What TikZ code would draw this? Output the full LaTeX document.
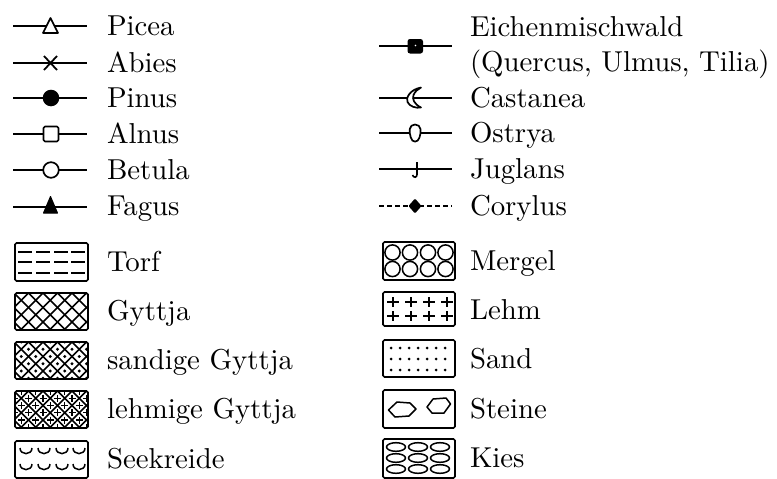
\documentclass[tikz,border=0pt]{standalone}
\usepackage{fontspec}
\usepackage{graphicx}
\newcommand\txt[1]{\scalebox{2.88}{\addfontfeatures{FakeBold=0.6}#1}}
\begin{document}
\begin{tikzpicture}[x=1pt,y=-1pt,
  conn/.style={line width=1.5pt},
  sym/.style={line width=1.7pt,fill=white,line join=round},
  solidsym/.style={line width=1pt,fill=black,line join=round},
  lbl/.style={anchor=base west,inner sep=0pt,outer sep=0pt},
  swatch/.style={draw,line width=1.6pt,rounded corners=1.5pt},
  hatch/.style={line width=1.5pt},
  fine/.style={line width=1.5pt}]
\useasboundingbox (0,0) rectangle (777,479);
% ---------- left symbol column ----------
\foreach \n/\y in {1/26,2/63,3/98,4/134,5/170,6/207}{
  \coordinate (la\n) at (13,\y);
  \coordinate (lb\n) at (87,\y);
  \draw[conn] (la\n) -- (lb\n);
}
% Picea
\draw[sym] (43,33) -- (58,33) -- (50.5,18) -- cycle;
% Abies
\draw[line width=1.8pt] (44,56) -- (57,70) (44,70) -- (57,56);
% Pinus
\fill (51,98) circle[radius=8.3];
% Alnus
\draw[sym,rounded corners=1.5pt] (43.5,126.5) rectangle (58.5,141.5);
% Betula
\draw[sym] (51,170) circle[radius=7.8];
% Fagus
\draw[solidsym] (43.5,213) -- (57.5,213) -- (50.5,196.5) -- cycle;
\node[lbl] (tPicea)  at (107,35)  {\txt{Picea}};
\node[lbl] (tAbies)  at (107,72)  {\txt{Abies}};
\node[lbl] (tPinus)  at (107,107) {\txt{Pinus}};
\node[lbl] (tAlnus)  at (107,143) {\txt{Alnus}};
\node[lbl] (tBetula) at (107,179) {\txt{Betula}};
\node[lbl] (tFagus)  at (107,215) {\txt{Fagus}};
% ---------- right symbol column ----------
\foreach \n/\y in {1/46,2/98,3/133,4/169}{
  \coordinate (ra\n) at (379,\y);
  \coordinate (rb\n) at (452,\y);
  \draw[conn] (ra\n) -- (rb\n);
}
\coordinate (ra5) at (379,206);
\coordinate (rb5) at (452,206);
\draw[conn,dash pattern=on 5pt off 3pt] (ra5) -- (rb5);
% Eichenmischwald
\fill[rounded corners=2.5pt] (407.5,39) rectangle (423,53.5);
\fill[white] (415.5,45.5) circle[radius=0.9];
% Castanea
\draw[sym] (421,87.5) .. controls (410,89.5) and (405.5,98) .. (407.5,102)
  .. controls (409.5,106.5) and (416,108.5) .. (421,107.5)
  .. controls (414,104) and (412,99) .. (413.5,95)
  .. controls (415,91.5) and (418,89) .. (421,87.5) -- cycle;
% Ostrya
\draw[sym] (415,124.5) .. controls (421.5,124.5) and (421.5,132) .. (419.5,137.5)
  .. controls (418,143) and (412,143) .. (410.8,137.5)
  .. controls (408.8,132) and (408.8,124.5) .. (415,124.5) -- cycle;
% Juglans
\draw[line width=1.6pt] (417,162) -- (417,174.5) .. controls (417,178) and (413.5,178) .. (412.5,175);
% Corylus
\fill[rounded corners=1pt] (408.5,206) -- (415,198.5) -- (421.5,206) -- (415,213.5) -- cycle;
\node[lbl] (tEichen)   at (470,36)  {\txt{Eichenmischwald}};
\node[lbl] (tQuercus)  at (470,71)  {\txt{(Quercus, Ulmus, Tilia)}};
\node[lbl] (tCastanea) at (470,107) {\txt{Castanea}};
\node[lbl] (tOstrya)   at (470,142) {\txt{Ostrya}};
\node[lbl] (tJuglans)  at (470,178) {\txt{Juglans}};
\node[lbl] (tCorylus)  at (470,215) {\txt{Corylus}};
% ---------- left swatches ----------
% Torf
\draw[swatch] (15,243) rectangle (88,281);
\foreach \yy in {252,262,273}{
  \foreach \xx in {18,36,54,71}{
    \draw[fine] (\xx,\yy) -- ++(14,0);
  }
}
% Gyttja family: crosshatch
\foreach \top/\kind in {293/0,342/1,391/2}{
  \begin{scope}
    \clip (15,\top) rectangle (88,\top+37);
    \foreach \k in {-4,...,9}{
      \draw[hatch] (14+\k*14.5,\top) -- ++(37,37);
      \draw[hatch] (14+\k*14.5,\top) -- ++(-37,37);
    }
    \ifnum\kind=1
      \foreach \a in {-1,...,6}{
        \foreach \b in {0,...,3}{
          \fill (21.25+\a*14.5,\top+\b*14.5) circle[radius=1.6];
          \fill (14+\a*14.5,\top+7.25+\b*14.5) circle[radius=1.6];
        }
      }
    \fi
    \ifnum\kind=2
      \foreach \a in {-1,...,6}{
        \foreach \b in {0,...,3}{
          \draw[line width=1.3pt] (17.75+\a*14.5,\top+\b*14.5) -- ++(7,0) (21.25+\a*14.5,\top-3.5+\b*14.5) -- ++(0,7);
          \draw[line width=1.3pt] (10.5+\a*14.5,\top+7.25+\b*14.5) -- ++(7,0) (14+\a*14.5,\top+3.75+\b*14.5) -- ++(0,7);
        }
      }
    \fi
  \end{scope}
  \draw[swatch] (15,\top) rectangle (88,\top+37);
}
% Seekreide
\draw[swatch] (15,441) rectangle (88,478);
\foreach \yy in {448,464}{
  \foreach \xx in {26,44,62,79}{
    \draw[fine] (\xx-6,\yy) .. controls (\xx-6,\yy+7.5) and (\xx+6,\yy+7.5) .. (\xx+6,\yy);
  }
}
\node[lbl] (tTorf)  at (107,271) {\txt{Torf}};
\node[lbl] (tGy)    at (107,320) {\txt{Gyttja}};
\node[lbl] (tSGy)   at (107,369) {\txt{sandige Gyttja}};
\node[lbl] (tLGy)   at (107,418) {\txt{lehmige Gyttja}};
\node[lbl] (tSee)   at (107,468) {\txt{Seekreide}};
% ---------- right swatches ----------
% Mergel
\draw[swatch] (383,242) rectangle (455,280);
\foreach \yy in {252.5,269}{
  \foreach \xx in {392.5,410,428,445.5}{
    \draw[fine] (\xx,\yy) circle[radius=7.6];
  }
}
% Lehm
\draw[swatch] (383,292) rectangle (455,326);
\foreach \yy in {302,316}{
  \foreach \xx in {393,411,429,447}{
    \draw[line width=1.6pt] (\xx-6,\yy) -- ++(12,0) (\xx,\yy-4.8) -- ++(0,9.6);
  }
}
% Sand
\draw[swatch] (383,340) rectangle (455,377);
\foreach \yy in {348,359,370}{
  \foreach \xx in {391,400,409,418,427,436,445}{
    \fill (\xx,\yy) circle[radius=1.5];
  }
}
% Steine
\draw[swatch] (383,390) rectangle (455,428);
\draw[fine,line join=round] (388.5,410) -- (397,402) -- (410,403) -- (416,409) -- (409,416) -- (395,417) -- cycle;
\draw[fine,line join=round] (427,407) -- (433,399) -- (446,398) -- (450.5,404) -- (444,413) -- (432,413) -- cycle;
% Kies
\draw[swatch] (383,439) rectangle (455,478);
\foreach \yy in {447,458,469}{
  \foreach \xx in {396,418,440}{
    \draw[fine] (\xx,\yy) ellipse[x radius=9.5,y radius=4.3];
  }
}
\node[lbl] (tMergel) at (470,270) {\txt{Mergel}};
\node[lbl] (tLehm)   at (470,319) {\txt{Lehm}};
\node[lbl] (tSand)   at (470,368) {\txt{Sand}};
\node[lbl] (tSteine) at (470,418) {\txt{Steine}};
\node[lbl] (tKies)   at (470,467) {\txt{Kies}};
\end{tikzpicture}
\end{document}
